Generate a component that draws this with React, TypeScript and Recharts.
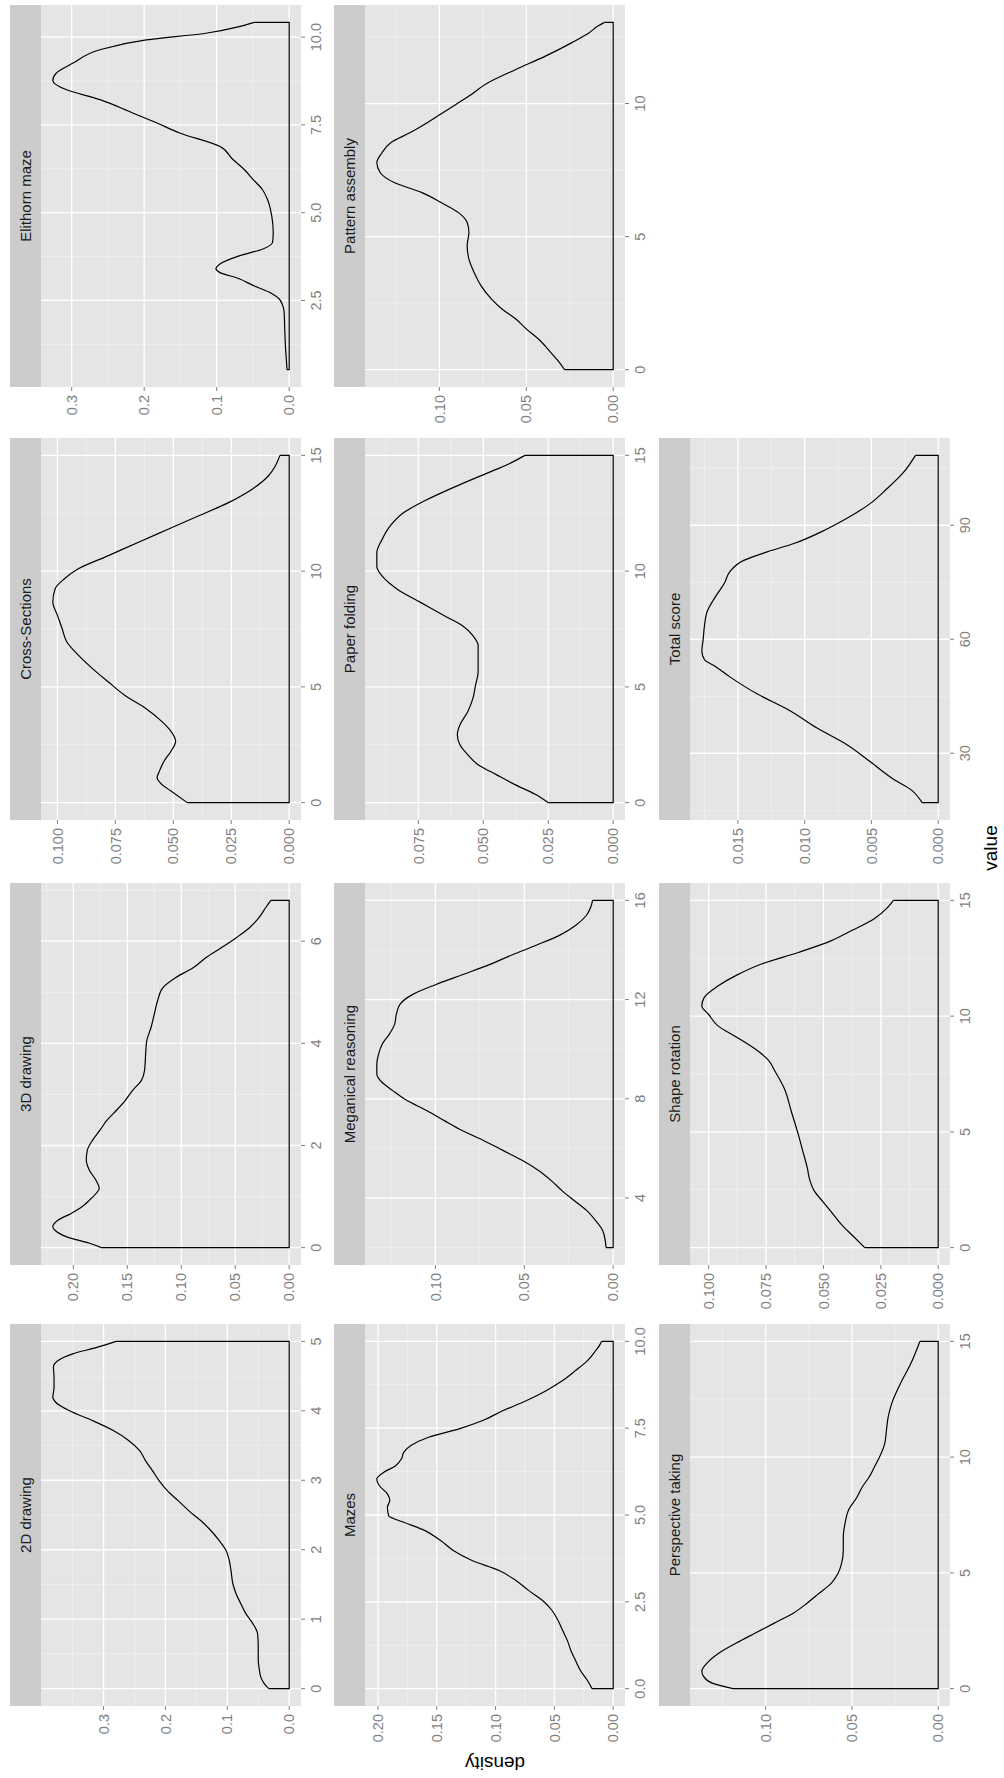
import React from 'react';
import { LineChart, Line, XAxis, YAxis, CartesianGrid } from 'recharts';

// density curves: value (x) and density (y) per test
const drawing2dValue = [0, 0.07, 0.17, 0.26, 0.41, 0.6, 0.79, 0.94, 1.08, 1.22, 1.37, 1.51, 1.7, 1.85, 1.99, 2.13, 2.28, 2.42, 2.56, 2.71, 2.85, 2.99, 3.14, 3.28, 3.43, 3.57, 3.72, 3.86, 4.0, 4.12, 4.19, 4.34, 4.48, 4.63, 4.72, 4.82, 4.91, 5.0];
const drawing2dDensity = [0.033, 0.04, 0.046, 0.048, 0.05, 0.05, 0.051, 0.059, 0.07, 0.078, 0.086, 0.091, 0.094, 0.097, 0.102, 0.113, 0.127, 0.143, 0.162, 0.18, 0.197, 0.21, 0.221, 0.232, 0.242, 0.259, 0.285, 0.318, 0.355, 0.377, 0.382, 0.38, 0.38, 0.381, 0.374, 0.35, 0.312, 0.28];

const drawing3dValue = [0, 0.085, 0.21, 0.34, 0.41, 0.54, 0.67, 0.8, 0.93, 1.06, 1.16, 1.32, 1.51, 1.72, 1.91, 2.11, 2.31, 2.49, 2.69, 2.88, 3.08, 3.27, 3.47, 3.79, 4.05, 4.31, 4.57, 4.83, 5.09, 5.29, 5.48, 5.68, 5.87, 6.07, 6.26, 6.46, 6.65, 6.8];
const drawing3dDensity = [0.174, 0.185, 0.206, 0.217, 0.219, 0.214, 0.202, 0.192, 0.185, 0.179, 0.176, 0.179, 0.185, 0.188, 0.187, 0.182, 0.175, 0.169, 0.16, 0.152, 0.145, 0.137, 0.134, 0.133, 0.132, 0.128, 0.125, 0.122, 0.117, 0.105, 0.089, 0.077, 0.063, 0.049, 0.037, 0.028, 0.022, 0.017];

const crossValue = [0, 0.5, 0.79, 1.07, 1.36, 1.79, 2.22, 2.65, 3.08, 3.51, 4.08, 4.64, 5.21, 5.8, 6.37, 6.95, 7.52, 8.09, 8.67, 9.24, 9.67, 10.1, 10.67, 11.25, 11.82, 12.39, 12.97, 13.54, 14.11, 14.54, 15];
const crossDensity = [0.044, 0.051, 0.055, 0.057, 0.056, 0.054, 0.051, 0.049, 0.051, 0.055, 0.062, 0.071, 0.078, 0.085, 0.091, 0.096, 0.098, 0.1, 0.102, 0.101, 0.097, 0.091, 0.078, 0.065, 0.052, 0.039, 0.026, 0.016, 0.009, 0.006, 0.004];

const elithornValue = [0.53, 0.84, 1.13, 1.6, 2.17, 2.36, 2.55, 2.74, 2.93, 3.12, 3.3, 3.4, 3.53, 3.77, 3.96, 4.15, 4.43, 4.9, 5.38, 5.66, 5.95, 6.23, 6.52, 6.89, 7.27, 7.56, 7.84, 8.22, 8.5, 8.76, 8.98, 9.26, 9.64, 9.92, 10.11, 10.3, 10.42];
const elithornDensity = [0.003, 0.004, 0.005, 0.006, 0.007, 0.009, 0.014, 0.028, 0.05, 0.069, 0.096, 0.101, 0.096, 0.069, 0.037, 0.023, 0.022, 0.024, 0.03, 0.037, 0.05, 0.062, 0.078, 0.096, 0.151, 0.183, 0.216, 0.261, 0.307, 0.326, 0.321, 0.298, 0.261, 0.197, 0.115, 0.069, 0.048];

const mazesValue = [0, 0.24, 0.53, 0.81, 1.1, 1.39, 1.68, 1.97, 2.25, 2.54, 2.83, 3.12, 3.4, 3.69, 3.98, 4.27, 4.55, 4.79, 4.98, 5.22, 5.42, 5.61, 5.85, 6.04, 6.23, 6.42, 6.62, 6.81, 7.0, 7.24, 7.48, 7.72, 8.0, 8.29, 8.58, 8.87, 9.16, 9.44, 9.73, 9.92, 10.0];
const mazesDensity = [0.018, 0.022, 0.028, 0.032, 0.036, 0.039, 0.043, 0.047, 0.052, 0.06, 0.072, 0.083, 0.097, 0.12, 0.136, 0.147, 0.16, 0.178, 0.191, 0.192, 0.19, 0.192, 0.199, 0.201, 0.195, 0.185, 0.18, 0.178, 0.172, 0.157, 0.131, 0.111, 0.094, 0.074, 0.057, 0.043, 0.032, 0.022, 0.015, 0.011, 0.01];

const mechValue = [2.0, 2.3, 2.7, 3.1, 3.5, 3.9, 4.31, 4.71, 5.11, 5.51, 5.92, 6.32, 6.72, 7.12, 7.53, 7.93, 8.33, 8.73, 9.0, 9.4, 9.8, 10.2, 10.6, 11.0, 11.41, 11.81, 12.2, 12.6, 13.0, 13.4, 13.8, 14.2, 14.6, 15.0, 15.4, 15.75, 16.0];
const mechDensity = [0.004, 0.0045, 0.006, 0.01, 0.015, 0.022, 0.029, 0.035, 0.042, 0.051, 0.062, 0.073, 0.085, 0.095, 0.105, 0.116, 0.124, 0.131, 0.133, 0.133, 0.132, 0.13, 0.126, 0.123, 0.122, 0.12, 0.113, 0.1, 0.085, 0.07, 0.057, 0.043, 0.03, 0.021, 0.015, 0.0125, 0.0116];

const paperValue = [0, 0.36, 0.79, 1.21, 1.64, 2.07, 2.5, 2.93, 3.36, 3.93, 4.5, 5.07, 5.64, 6.21, 6.79, 7.21, 7.64, 8.07, 8.64, 9.21, 9.79, 10.21, 10.79, 11.36, 11.93, 12.5, 13.07, 13.64, 14.21, 14.64, 15];
const paperDensity = [0.025, 0.03, 0.038, 0.045, 0.052, 0.056, 0.059, 0.06, 0.059, 0.056, 0.054, 0.053, 0.052, 0.052, 0.052, 0.054, 0.058, 0.065, 0.074, 0.083, 0.089, 0.091, 0.091, 0.089, 0.086, 0.081, 0.072, 0.061, 0.049, 0.04, 0.034];

const patternValue = [0, 0.275, 0.65, 1.15, 1.53, 1.9, 2.28, 2.65, 3.15, 3.65, 4.15, 4.66, 5.16, 5.53, 5.9, 6.28, 6.65, 7.03, 7.4, 7.78, 8.15, 8.53, 8.9, 9.28, 9.78, 10.28, 10.78, 11.28, 11.78, 12.28, 12.65, 12.9, 13.05];
const patternDensity = [0.028, 0.031, 0.036, 0.043, 0.05, 0.056, 0.064, 0.07, 0.076, 0.08, 0.083, 0.084, 0.083, 0.084, 0.089, 0.099, 0.11, 0.126, 0.134, 0.136, 0.133, 0.128, 0.117, 0.107, 0.095, 0.083, 0.072, 0.056, 0.039, 0.024, 0.014, 0.009, 0.005];

const perspValue = [0, 0.24, 0.53, 0.75, 1.1, 1.54, 1.97, 2.4, 2.83, 3.26, 3.69, 4.12, 4.55, 4.98, 5.41, 5.99, 6.56, 7.13, 7.71, 8.28, 8.71, 9.14, 9.57, 10.0, 10.58, 11.15, 11.73, 12.3, 13.16, 14.02, 15];
const perspDensity = [0.119, 0.131, 0.136, 0.137, 0.134, 0.127, 0.117, 0.106, 0.095, 0.084, 0.076, 0.069, 0.062, 0.058, 0.056, 0.055, 0.055, 0.054, 0.052, 0.047, 0.044, 0.04, 0.037, 0.034, 0.031, 0.03, 0.029, 0.027, 0.022, 0.016, 0.0106];

const shapeValue = [0, 0.49, 0.98, 1.47, 1.96, 2.45, 2.94, 3.43, 4.17, 4.9, 5.88, 6.86, 7.6, 8.1, 8.6, 9.1, 9.58, 10.07, 10.44, 10.8, 11.3, 11.76, 12.25, 12.75, 13.24, 13.73, 14.2, 14.7, 15];
const shapeDensity = [0.032, 0.037, 0.042, 0.046, 0.05, 0.054, 0.056, 0.057, 0.059, 0.061, 0.064, 0.067, 0.071, 0.074, 0.08, 0.088, 0.096, 0.1, 0.103, 0.102, 0.096, 0.088, 0.077, 0.061, 0.047, 0.037, 0.028, 0.022, 0.0195];

const totalValue = [17, 20.3, 23.3, 27.8, 32.2, 36.7, 41.2, 45.7, 50.1, 53.1, 54.6, 56.9, 59.9, 63.6, 67.3, 71.1, 74.8, 77.8, 80.7, 83, 85.2, 88.2, 91.9, 95.7, 99.4, 103.9, 108.4];
const totalDensity = [0.0012, 0.002, 0.0034, 0.0051, 0.0068, 0.0091, 0.0111, 0.0136, 0.0156, 0.0168, 0.0175, 0.0177, 0.0176, 0.0175, 0.0173, 0.0167, 0.016, 0.0156, 0.0146, 0.0128, 0.0108, 0.0088, 0.0068, 0.0051, 0.0039, 0.0026, 0.0017];

// axis breaks per panel
const ticksV2d = [0, 1, 2, 3, 4, 5];
const ticksD2d = [0, 0.1, 0.2, 0.3];
const ticksV3d = [0, 2, 4, 6];
const ticksD3d = [0, 0.05, 0.1, 0.15, 0.2];
const ticksVCross = [0, 5, 10, 15];
const ticksDCross = [0, 0.025, 0.05, 0.075, 0.1];
const ticksVElithorn = [2.5, 5, 7.5, 10];
const ticksDElithorn = [0, 0.1, 0.2, 0.3];
const ticksVMazes = [0, 2.5, 5, 7.5, 10];
const ticksDMazes = [0, 0.05, 0.1, 0.15, 0.2];
const ticksVMech = [4, 8, 12, 16];
const ticksDMech = [0, 0.05, 0.1];
const ticksVPaper = [0, 5, 10, 15];
const ticksDPaper = [0, 0.025, 0.05, 0.075];
const ticksVPattern = [0, 5, 10];
const ticksDPattern = [0, 0.05, 0.1];
const ticksVPersp = [0, 5, 10, 15];
const ticksDPersp = [0, 0.05, 0.1];
const ticksVShape = [0, 5, 10, 15];
const ticksDShape = [0, 0.025, 0.05, 0.075, 0.1];
const ticksVTotal = [30, 60, 90];
const ticksDTotal = [0, 0.005, 0.01, 0.015];

interface PanelDef {
  title: string;
  v: number[];
  d: number[];
  vTicks: number[];
  vDec: number;
  dTicks: number[];
  dDec: number;
  row: number;
  col: number;
}

const panels: PanelDef[] = [
  { title: '2D drawing', v: drawing2dValue, d: drawing2dDensity, vTicks: ticksV2d, vDec: 0, dTicks: ticksD2d, dDec: 1, row: 0, col: 0 },
  { title: '3D drawing', v: drawing3dValue, d: drawing3dDensity, vTicks: ticksV3d, vDec: 0, dTicks: ticksD3d, dDec: 2, row: 0, col: 1 },
  { title: 'Cross-Sections', v: crossValue, d: crossDensity, vTicks: ticksVCross, vDec: 0, dTicks: ticksDCross, dDec: 3, row: 0, col: 2 },
  { title: 'Elithorn maze', v: elithornValue, d: elithornDensity, vTicks: ticksVElithorn, vDec: 1, dTicks: ticksDElithorn, dDec: 1, row: 0, col: 3 },
  { title: 'Mazes', v: mazesValue, d: mazesDensity, vTicks: ticksVMazes, vDec: 1, dTicks: ticksDMazes, dDec: 2, row: 1, col: 0 },
  { title: 'Meganical reasoning', v: mechValue, d: mechDensity, vTicks: ticksVMech, vDec: 0, dTicks: ticksDMech, dDec: 2, row: 1, col: 1 },
  { title: 'Paper folding', v: paperValue, d: paperDensity, vTicks: ticksVPaper, vDec: 0, dTicks: ticksDPaper, dDec: 3, row: 1, col: 2 },
  { title: 'Pattern assembly', v: patternValue, d: patternDensity, vTicks: ticksVPattern, vDec: 0, dTicks: ticksDPattern, dDec: 2, row: 1, col: 3 },
  { title: 'Perspective taking', v: perspValue, d: perspDensity, vTicks: ticksVPersp, vDec: 0, dTicks: ticksDPersp, dDec: 2, row: 2, col: 0 },
  { title: 'Shape rotation', v: shapeValue, d: shapeDensity, vTicks: ticksVShape, vDec: 0, dTicks: ticksDShape, dDec: 3, row: 2, col: 1 },
  { title: 'Total score', v: totalValue, d: totalDensity, vTicks: ticksVTotal, vDec: 0, dTicks: ticksDTotal, dDec: 3, row: 2, col: 2 },
];

// layout of the unrotated figure (it is turned a quarter left at the end)
const PANEL_W = 382;
const PANEL_H = 260;
const STRIP_H = 31;
const AXIS_W = 70;
const AXIS_H = 34;
const rowTop = [10, 334, 659];
const colLeft = [72, 513, 958, 1391];

const TICK_GREY = '#7F7F7F';

function minorBreaks(major: number[], domain: number[]) {
  const step = major[1] - major[0];
  const out: number[] = [];
  for (let k = -20; k < 40; k++) {
    const t = major[0] + step * (k + 0.5);
    if (t > domain[0] && t < domain[1]) out.push(t);
  }
  return out;
}

// curve points, then the closing outline down to zero (geom_density polygon)
function buildRows(v: number[], d: number[]) {
  const n = v.length - 1;
  const curve = v.map((x, i) => ({ v: x, d: d[i] }));
  const outline = [
    { v: v[n], o: d[n] },
    { v: v[n], o: 0 },
    { v: v[0], o: 0 },
    { v: v[0], o: d[0] },
  ];
  return [...curve, ...outline];
}

function DensityPanel({ p }: { p: PanelDef }) {
  const vMin = Math.min(...p.v);
  const vMax = Math.max(...p.v);
  const dMax = Math.max(...p.d);
  const vPad = (vMax - vMin) * 0.05;
  const vDomain = [vMin - vPad, vMax + vPad];
  const dDomain = [-dMax * 0.05, dMax * 1.05];
  const left = colLeft[p.col];
  const top = rowTop[p.row];

  return (
    <>
      <div
        style={{
          position: 'absolute',
          left,
          top,
          width: PANEL_W,
          height: STRIP_H,
          background: '#CCCCCC',
          display: 'flex',
          alignItems: 'center',
          justifyContent: 'center',
          fontSize: 15,
          color: '#1A1A1A',
        }}
      >
        {p.title}
      </div>
      <div style={{ position: 'absolute', left: left - AXIS_W, top: top + STRIP_H }}>
        <LineChart
          width={AXIS_W + PANEL_W + 6}
          height={PANEL_H + AXIS_H}
          data={buildRows(p.v, p.d)}
          margin={{ top: 0, right: 6, bottom: 0, left: 0 }}
        >
          <CartesianGrid
            fill="#E5E5E5"
            fillOpacity={1}
            stroke="#F2F2F2"
            strokeWidth={0.7}
            horizontalValues={minorBreaks(p.dTicks, dDomain)}
            verticalValues={minorBreaks(p.vTicks, vDomain)}
          />
          <CartesianGrid stroke="#FFFFFF" strokeWidth={1.3} horizontalValues={p.dTicks} verticalValues={p.vTicks} />
          <XAxis
            type="number"
            dataKey="v"
            domain={vDomain}
            allowDataOverflow
            ticks={p.vTicks}
            interval={0}
            tickFormatter={(t: number) => t.toFixed(p.vDec)}
            axisLine={false}
            tickLine={{ stroke: TICK_GREY }}
            tickSize={4}
            tickMargin={6}
            tick={{ fill: TICK_GREY, fontSize: 14.5 }}
            height={AXIS_H}
          />
          <YAxis
            type="number"
            domain={dDomain}
            allowDataOverflow
            ticks={p.dTicks}
            interval={0}
            tickFormatter={(t: number) => t.toFixed(p.dDec)}
            axisLine={false}
            tickLine={{ stroke: TICK_GREY }}
            tickSize={4}
            tickMargin={4}
            tick={{ fill: TICK_GREY, fontSize: 14.5 }}
            width={AXIS_W}
          />
          <Line dataKey="d" type="monotone" stroke="#000000" strokeWidth={1.2} dot={false} isAnimationActive={false} />
          <Line dataKey="o" type="linear" stroke="#000000" strokeWidth={1.2} dot={false} isAnimationActive={false} />
        </LineChart>
      </div>
    </>
  );
}

export default function App() {
  return (
    <div
      style={{
        position: 'absolute',
        left: 0,
        top: 0,
        width: 1004,
        height: 1778,
        overflow: 'hidden',
        background: '#FFFFFF',
      }}
    >
      <div
        style={{
          position: 'absolute',
          left: 0,
          top: 0,
          width: 1778,
          height: 1004,
          transformOrigin: '0 0',
          transform: 'translate(0px, 1778px) rotate(-90deg)',
          fontFamily: '"Liberation Sans", Arial, sans-serif',
        }}
      >
        {panels.map((p) => (
          <DensityPanel key={p.title} p={p} />
        ))}
        <div
          style={{
            position: 'absolute',
            left: 830,
            width: 200,
            top: 981,
            lineHeight: '20px',
            textAlign: 'center',
            fontSize: 19,
            color: '#000000',
          }}
        >
          value
        </div>
        <div
          style={{
            position: 'absolute',
            left: 15,
            top: 495,
            transform: 'translate(-50%, -50%) rotate(-90deg)',
            fontSize: 19,
            lineHeight: '19px',
            whiteSpace: 'nowrap',
            color: '#000000',
          }}
        >
          density
        </div>
      </div>
    </div>
  );
}
